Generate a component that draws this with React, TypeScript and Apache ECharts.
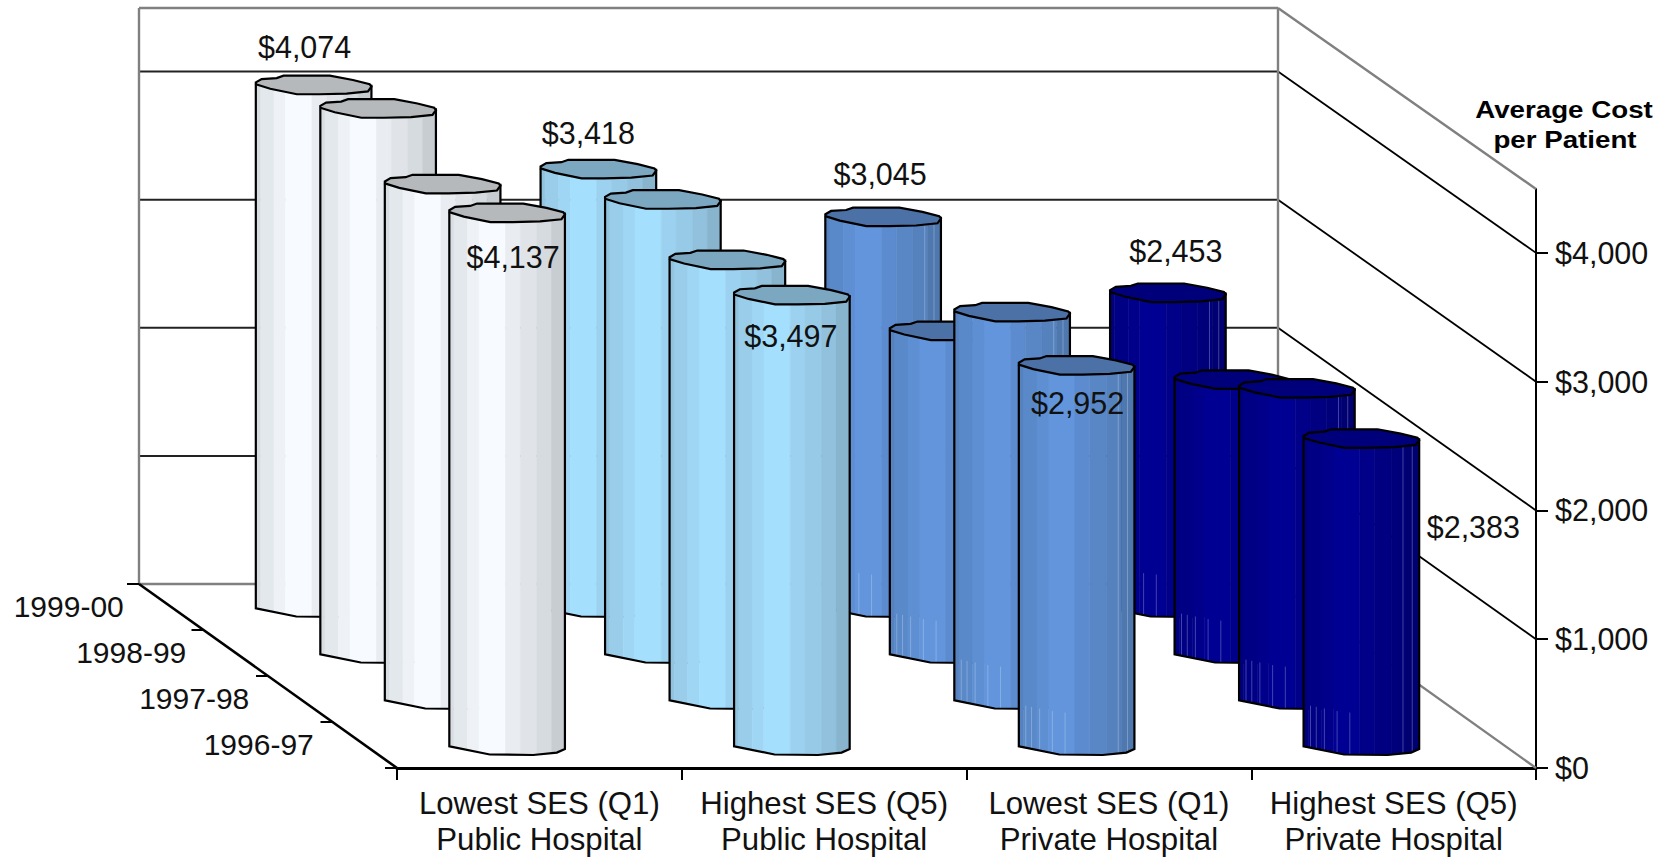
import React, { useEffect, useRef } from "react";
import * as echarts from "echarts";

// Hospital groups along the front of the floor
const categories = [
  "Lowest SES (Q1)\nPublic Hospital",
  "Highest SES (Q5)\nPublic Hospital",
  "Lowest SES (Q1)\nPrivate Hospital",
  "Highest SES (Q5)\nPrivate Hospital",
];

// Financial years, front row first
const years = ["1996-97", "1997-98", "1998-99", "1999-00"];

// Average cost per patient for each year
const costs9697 = [4137, 3497, 2952, 2383];
const costs9798 = [4008, 3419, 3012, 2419];
const costs9899 = [4244, 3535, 2512, 2132];
const costs9900 = [4074, 3418, 3045, 2453];

const costTicks = [0, 1000, 2000, 3000, 4000];
const costMax = 4496;

// Projection of the depth axis: screen shift per row, and the slight
// foreshortening of heights toward the back wall
const ROW_DX = 64.5;
const ROW_DY = 46;
const ROWS = years.length;
const BACK_SCALE = 0.9948;

const FONT = '"Liberation Sans", Arial, sans-serif';

const palettes = [
  { light: [247, 251, 255], dark: [200, 205, 209], cap: "#b5b9bb", hair: "rgba(0,0,0,0)" },
  { light: [165, 223, 254], dark: [136, 180, 205], cap: "#7ca7c1", hair: "rgba(0,0,0,0)" },
  { light: [98, 149, 220], dark: [79, 120, 175], cap: "#4c71a6", hair: "rgba(225,235,250,0.3)" },
  { light: [0, 0, 146], dark: [0, 0, 112], cap: "#00007a", hair: "rgba(190,190,235,0.35)" },
];

// Facets of the cylinder wall: edges across the width and mix toward the dark tone
const facetEdges = [0, 0.04, 0.157, 0.257, 0.486, 0.614, 0.757, 0.886, 1];
const facetMix = [0.65, 0.42, 0.2, 0, 0.3, 0.5, 0.7, 1];

// Slightly uneven outline of the cap and the foot, in unit radii
const capOutline = [
  [-1, -0.25], [-0.9, -0.6], [-0.64, -0.7], [-0.52, -0.95], [0.28, -0.95], [0.68, -0.5],
  [0.97, -0.05], [1, 0.2], [0.94, 0.7], [0.57, 0.93], [0.1, 1], [-0.29, 1], [-0.75, 0.42], [-1, -0.05],
];
const footOutline = [
  [-1, 0.14], [-0.93, 0.22], [-0.3, 1], [0.45, 1.05], [0.86, 0.8], [1, 0.43],
];

// Where each printed value sits relative to the centre of its cap
const labelOffsets: Record<string, number[]> = {
  "3-0": [-9, -38], "3-1": [-10, -36], "3-2": [-3, -43], "3-3": [8, -42],
  "0-0": [6, 44], "0-1": [-1, 41], "0-2": [1, 38], "0-3": [112, 89],
};

// Horizontal distance of each year label from the depth axis
const yearLabelGaps = [106, 106, 104.5, 102.5];

const rowValues = [costs9697, costs9798, costs9899, costs9900];

// Back rows come first so nearer cylinders paint over them
const cylinderData: number[][] = [];
for (let r = ROWS - 1; r >= 0; r--) {
  rowValues[r].forEach((v, c) => cylinderData.push([c, v, r]));
}
const labelData = cylinderData.filter((d) => d[2] === 0 || d[2] === ROWS - 1);

const mix = (a: number[], b: number[], t: number) =>
  `rgb(${a.map((v, i) => Math.round(v + (b[i] - v) * t)).join(",")})`;

const heightScale = (depth: number) => 1 - ((1 - BACK_SCALE) * depth) / ROWS;

function footY(u: number) {
  for (let i = 0; i < footOutline.length - 1; i++) {
    const [x0, y0] = footOutline[i];
    const [x1, y1] = footOutline[i + 1];
    if (u >= x0 && u <= x1) return y0 + ((y1 - y0) * (u - x0)) / (x1 - x0);
  }
  return footOutline[footOutline.length - 1][1];
}

function renderCylinder(params: any, api: any) {
  const cat = api.value(0);
  const value = api.value(1);
  const row = api.value(2);
  const band = api.size([1, 0])[0];
  const rx = band * 0.203;
  const ry = 9.5;
  const depth = row + 0.5;
  const top = api.coord([cat, value]);
  const base = api.coord([cat, 0]);
  const cx = top[0] - ROW_DX * depth;
  const baseY = base[1] - ROW_DY * depth;
  const topY = baseY - (base[1] - top[1]) * heightScale(depth);
  const pal = palettes[cat];
  const children: any[] = [];

  facetMix.forEach((m, i) => {
    const u0 = facetEdges[i] * 2 - 1;
    const u1 = facetEdges[i + 1] * 2 - 1;
    const inner = footOutline.filter((p) => p[0] > u0 && p[0] < u1).reverse();
    const pts = [
      [cx + u0 * rx, topY],
      [cx + u1 * rx, topY],
      [cx + u1 * rx, baseY + footY(u1) * ry],
      ...inner.map((p) => [cx + p[0] * rx, baseY + p[1] * ry]),
      [cx + u0 * rx, baseY + footY(u0) * ry],
    ];
    const fill = mix(pal.light, pal.dark, m);
    children.push({
      type: "polygon",
      shape: { points: pts },
      style: { fill, stroke: fill, lineWidth: 0.6 },
    });
  });

  // Fine seams between the facets of the darker cylinders
  [0.06, 0.11, 0.18, 0.29, 0.4].forEach((f) => {
    const u = f * 2 - 1;
    const y = baseY + footY(u) * ry;
    children.push({
      type: "line",
      shape: { x1: cx + u * rx, y1: y - 42, x2: cx + u * rx, y2: y },
      style: { stroke: pal.hair, lineWidth: 1 },
    });
  });
  [0.86, 0.94].forEach((f) => {
    const u = f * 2 - 1;
    children.push({
      type: "line",
      shape: { x1: cx + u * rx, y1: topY + 8, x2: cx + u * rx, y2: baseY + footY(u) * ry },
      style: { stroke: pal.hair, lineWidth: 1 },
    });
  });

  children.push({
    type: "polyline",
    shape: {
      points: [
        [cx - rx, topY],
        ...footOutline.map((p) => [cx + p[0] * rx, baseY + p[1] * ry]),
        [cx + rx, topY],
      ],
    },
    style: { fill: "none", stroke: "#000", lineWidth: 2.2 },
  });
  children.push({
    type: "polygon",
    shape: { points: capOutline.map((p) => [cx + p[0] * rx, topY + p[1] * ry]) },
    style: { fill: pal.cap, stroke: "#000", lineWidth: 2.2 },
  });

  return { type: "group", children };
}

function renderValueLabel(params: any, api: any) {
  const cat = api.value(0);
  const value = api.value(1);
  const row = api.value(2);
  const depth = row + 0.5;
  const p = api.coord([cat, value]);
  const base = api.coord([cat, 0]);
  const off = labelOffsets[`${row}-${cat}`];
  return {
    type: "text",
    style: {
      text: "$" + value.toLocaleString("en-US"),
      x: p[0] - ROW_DX * depth + off[0],
      y: base[1] - ROW_DY * depth - (base[1] - p[1]) * heightScale(depth) + off[1],
      fill: "#111",
      font: `30.5px ${FONT}`,
      align: "center",
      verticalAlign: "middle",
    },
  };
}

function renderWalls(params: any, api: any) {
  const rect = params.coordSys;
  const left = rect.x;
  const right = rect.x + rect.width;
  const floorY = api.coord([0, 0])[1];
  const depthX = ROW_DX * ROWS;
  const depthY = ROW_DY * ROWS;
  const gray = "#808080";
  const children: any[] = [];
  const seg = (x1: number, y1: number, x2: number, y2: number, stroke: string, lineWidth: number) =>
    children.push({ type: "line", shape: { x1, y1, x2, y2 }, style: { stroke, lineWidth } });
  const backY = (y: number) => floorY - depthY - (floorY - y) * BACK_SCALE;

  costTicks.slice(1).forEach((v) => {
    const y = api.coord([0, v])[1];
    seg(left - depthX, backY(y), right - depthX, backY(y), "#222", 2);
    seg(right - depthX, backY(y), right, y, "#000", 1.8);
  });

  const topY = api.coord([0, costMax])[1];
  seg(left - depthX, backY(topY), right - depthX, backY(topY), gray, 2.4);
  seg(right - depthX, backY(topY), right, topY, gray, 2.4);
  seg(left - depthX, backY(topY), left - depthX, floorY - depthY, gray, 2.4);
  seg(right - depthX, backY(topY), right - depthX, floorY - depthY, gray, 2.4);
  seg(left - depthX, floorY - depthY, right - depthX, floorY - depthY, gray, 2.4);
  seg(right - depthX, floorY - depthY, right, floorY, gray, 2.4);

  // Depth axis along the left edge of the floor, with its stubs and year labels
  seg(left, floorY, left - depthX, floorY - depthY, "#000", 2.6);
  for (let r = 0; r <= ROWS; r++) {
    const x = left - ROW_DX * r;
    const y = floorY - ROW_DY * r;
    seg(x - 12, y, x, y, "#000", 2);
  }
  years.forEach((label, r) => {
    children.push({
      type: "text",
      style: {
        text: label,
        x: left - ROW_DX * (r + 0.5) - yearLabelGaps[r],
        y: floorY - ROW_DY * (r + 0.5) - 1,
        fill: "#111",
        font: `30px ${FONT}`,
        align: "center",
        verticalAlign: "middle",
      },
    });
  });
  return { type: "group", children };
}

export default function App() {
  const ref = useRef<HTMLDivElement>(null);

  useEffect(() => {
    document.body.style.margin = "0";
    const chart = echarts.init(ref.current!, null, { renderer: "svg" });
    chart.setOption({
      animation: false,
      backgroundColor: "#fff",
      grid: { left: 397, top: 189, width: 1139, height: 580 },
      xAxis: {
        type: "category",
        data: categories,
        boundaryGap: true,
        axisLine: { lineStyle: { color: "#000", width: 3 } },
        axisTick: { show: true, length: 12, lineStyle: { color: "#000", width: 2 } },
        axisLabel: {
          interval: 0,
          margin: 17,
          color: "#111",
          fontFamily: FONT,
          fontSize: 31.2,
          lineHeight: 36,
        },
      },
      yAxis: {
        type: "value",
        position: "right",
        min: 0,
        max: costMax,
        splitLine: { show: false },
        axisLine: { show: true, lineStyle: { color: "#000", width: 2 } },
        axisTick: {
          show: true,
          length: 12,
          customValues: costTicks,
          lineStyle: { color: "#000", width: 2 },
        },
        axisLabel: {
          margin: 19,
          color: "#111",
          fontFamily: FONT,
          fontSize: 30.5,
          customValues: costTicks,
          formatter: (v: number) => "$" + v.toLocaleString("en-US"),
        },
      },
      graphic: [
        {
          type: "group",
          z: 10,
          children: [
            {
              type: "text",
              x: 1564,
              y: 110,
              scaleX: 1.155,
              style: {
                text: "Average Cost",
                fill: "#000",
                font: `bold 24px ${FONT}`,
                align: "center",
                verticalAlign: "middle",
              },
            },
            {
              type: "text",
              x: 1565,
              y: 140,
              scaleX: 1.155,
              style: {
                text: "per Patient",
                fill: "#000",
                font: `bold 24px ${FONT}`,
                align: "center",
                verticalAlign: "middle",
              },
            },
          ],
        },
      ],
      series: [
        { type: "custom", z: 1, silent: true, renderItem: renderWalls, data: [[0, 0]], encode: { x: 0, y: 1 } },
        { type: "custom", z: 2, silent: true, renderItem: renderCylinder, data: cylinderData, encode: { x: 0, y: 1 } },
        { type: "custom", z: 3, silent: true, renderItem: renderValueLabel, data: labelData, encode: { x: 0, y: 1 } },
      ],
    });
    return () => chart.dispose();
  }, []);

  return <div ref={ref} style={{ width: 1673, height: 857 }} />;
}
